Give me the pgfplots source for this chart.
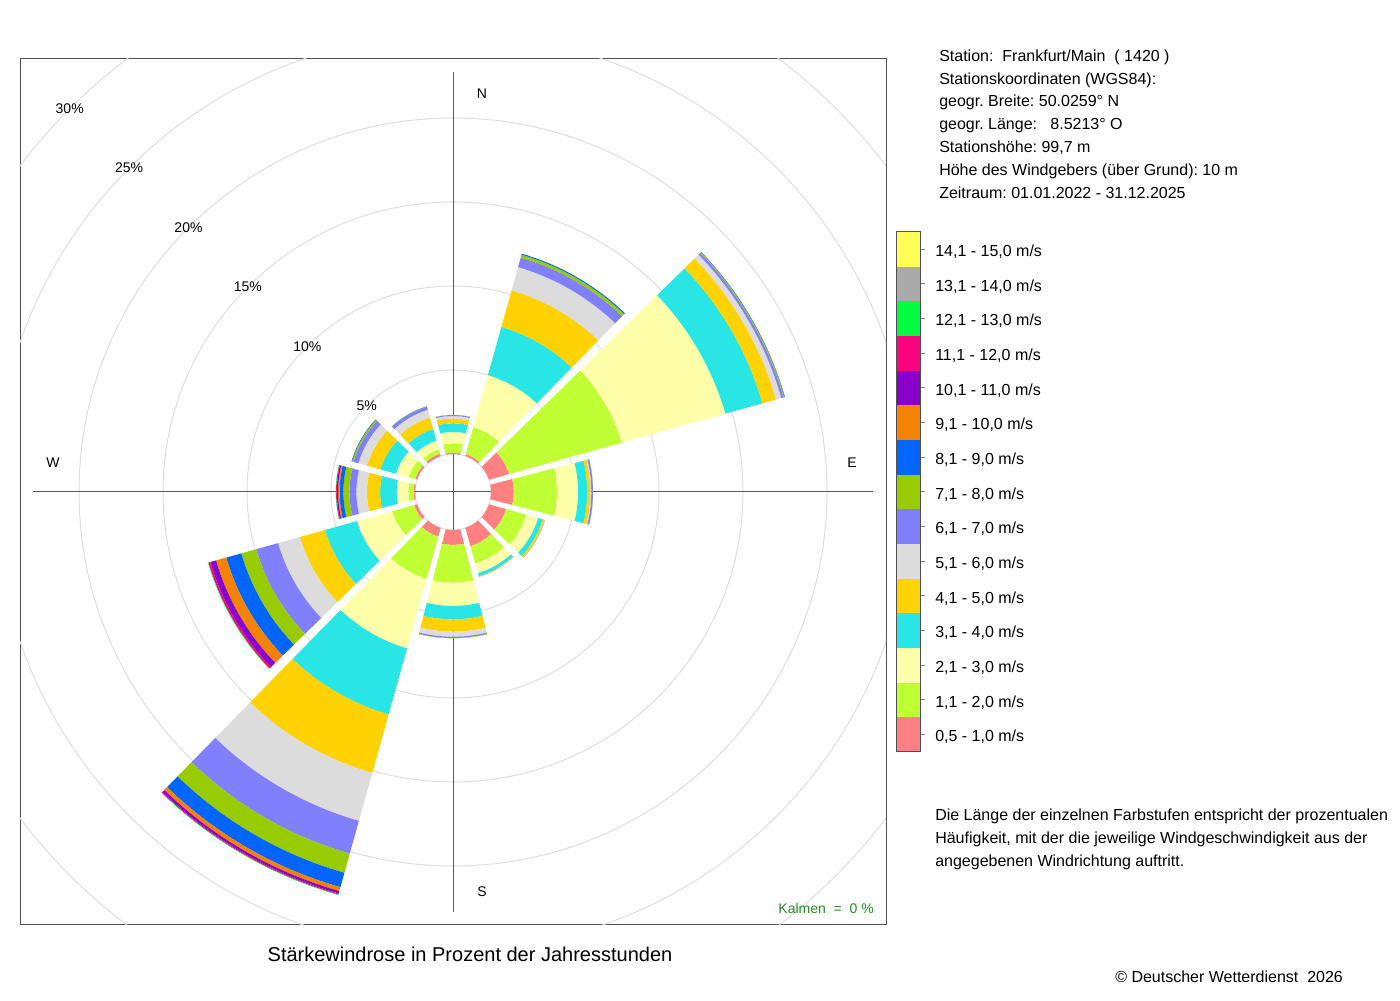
\documentclass[border=0pt]{standalone}
\usepackage{fontspec}
\setmainfont{Liberation Sans}
\usepackage{pgfplots}
\pgfplotsset{compat=1.18}
\usepackage{pgfplotstable}
\frenchspacing

\definecolor{wr1}{RGB}{255,128,128}
\definecolor{wr2}{RGB}{191,255,51}
\definecolor{wr3}{RGB}{255,255,170}
\definecolor{wr4}{RGB}{40,230,230}
\definecolor{wr5}{RGB}{255,210,0}
\definecolor{wr6}{RGB}{220,220,220}
\definecolor{wr7}{RGB}{128,128,255}
\definecolor{wr8}{RGB}{153,204,0}
\definecolor{wr9}{RGB}{0,102,255}
\definecolor{wr10}{RGB}{245,130,0}
\definecolor{wr11}{RGB}{136,0,204}
\definecolor{wr12}{RGB}{255,0,128}
\definecolor{wr13}{RGB}{0,255,64}
\definecolor{wr14}{RGB}{170,170,170}
\definecolor{wr15}{RGB}{255,255,85}
\definecolor{gridgray}{RGB}{222,222,222}
\definecolor{axgray}{RGB}{90,90,90}
\definecolor{framegray}{RGB}{80,80,80}
\definecolor{kalmgreen}{RGB}{34,139,34}

% cumulative percentages at the outer edge of each speed class, per direction
\pgfplotstableread{
dir c0 c1   c2   c3    c4    c5    c6    c7    c8    c9    c10   c11   c12   c13   c14   c15
0   0  0.08 0.63 1.31  1.82  2.11  2.26  2.32  2.33  2.33  2.33  2.33  2.33  2.33  2.33  2.33
30  0  0.12 1.79 5.00  7.98  10.24 11.67 12.26 12.44 12.50 12.50 12.50 12.50 12.50 12.50 12.50
60  0  1.25 8.21 14.61 16.90 17.74 18.07 18.21 18.27 18.29 18.29 18.29 18.29 18.29 18.29 18.29
90  0  1.35 3.93 5.18  5.73  5.91  5.97  6.07  6.08  6.08  6.08  6.08  6.08  6.08  6.08  6.08
120 0  1.07 2.32 3.04  3.33  3.45  3.46  3.47  3.47  3.47  3.47  3.47  3.47  3.47  3.47  3.47
150 0  1.13 2.20 2.80  2.98  3.01  3.01  3.02  3.02  3.02  3.02  3.02  3.02  3.02  3.02  3.02
180 0  0.89 3.14 4.52  5.32  6.05  6.35  6.43  6.45  6.45  6.45  6.45  6.45  6.45  6.45  6.45
210 0  0.54 3.15 7.44  11.52 15.14 18.10 20.12 21.31 22.20 22.44 22.59 22.65 22.68 22.68 22.68
240 0  0.18 1.55 3.72  5.69  7.24  8.59  9.94  10.86 11.79 12.42 12.77 12.89 12.92 12.92 12.92
270 0  0.09 0.40 1.09  2.08  2.86  3.49  3.90  4.26  4.49  4.58  4.66  4.70  4.72  4.72  4.72
300 0  0.12 0.54 1.31  2.26  3.10  3.63  3.93  4.02  4.05  4.05  4.05  4.05  4.05  4.05  4.05
330 0  0.15 0.42 0.95  1.67  2.38  2.86  3.04  3.06  3.07  3.07  3.07  3.07  3.07  3.07  3.07
}\rosedata

% grid rings (percent), all centred on the rose centre
\pgfplotstableread{
x y p
0 0 0
0 0 5
0 0 10
0 0 15
0 0 20
0 0 25
0 0 30
}\ringdata

% annular sector drawn around the rose centre; the marker sits on the outer edge
\pgfdeclareplotmark{rosesector}{%
  \pgfmathsetmacro\rsRi{0.75*(38+16.8*\rin)}%
  \pgfmathsetmacro\rsRo{0.75*(38+16.8*\rout)}%
  \pgfmathsetmacro\rsD{\rsRo-\rsRi}%
  \ifdim\rsD pt>0.05pt
    \pgfmathsetmacro\rsA{90-\wdir}%
    \pgfmathsetmacro\rsHi{14.4-asin(1.65/\rsRi)}%
    \pgfmathsetmacro\rsHo{14.4-asin(1.65/\rsRo)}%
    \pgfmathsetmacro\rsAa{\rsA+\rsHi}%
    \pgfmathsetmacro\rsAb{\rsA+\rsHo}%
    \pgfmathsetmacro\rsAc{\rsA-\rsHo}%
    \pgfmathsetmacro\rsAd{\rsA-\rsHi}%
    \pgfmathsetmacro\rsAo{\rsA+180}%
    \pgfscope
    \pgftransformshift{\pgfpointpolar{\rsAo}{\rsRo pt}}%
    \pgfpathmoveto{\pgfpointpolar{\rsAa}{\rsRi pt}}%
    \pgfpathlineto{\pgfpointpolar{\rsAb}{\rsRo pt}}%
    \pgfpatharc{\rsAb}{\rsAc}{\rsRo pt}%
    \pgfpathlineto{\pgfpointpolar{\rsAd}{\rsRi pt}}%
    \pgfpatharc{\rsAd}{\rsAa}{\rsRi pt}%
    \pgfpathclose
    \pgfusepathqfill
    \endpgfscope
  \fi
}
% grid ring centred on the marker
\pgfdeclareplotmark{gridring}{%
  \pgfmathsetmacro\rsR{0.75*(38+16.8*\gridp)}%
  \pgfpathcircle{\pgfpointorigin}{\rsR pt}%
  \pgfusepathqstroke
}

\newcommand{\seg}[3]{%
  \addplot[scatter, only marks, mark=rosesector,
    scatter/use mapped color={draw=none, fill=#1},
    visualization depends on={\thisrow{dir} \as \wdir},
    visualization depends on={\thisrow{#2} \as \rin},
    visualization depends on={\thisrow{#3} \as \rout}]
    table[x expr={(38+16.8*\thisrow{#3})*sin(\thisrow{dir})},
          y expr={(38+16.8*\thisrow{#3})*cos(\thisrow{dir})}] {\rosedata};
}

\begin{document}
\begin{tikzpicture}
\path[use as bounding box] (0,0) rectangle (1050pt,750pt);
\begin{axis}[
  at={(15pt,56.25pt)}, anchor=south west,
  scale only axis, width=649.5pt, height=649.5pt,
  xmin=-433, xmax=433, ymin=-433, ymax=433,
  axis line style={draw=framegray, line width=0.75pt},
  xtick=\empty, ytick=\empty,
  clip marker paths=true,
]
% grid rings 0% ... 30%
\addplot[scatter, only marks, mark=gridring, line width=0.75pt,
  scatter/use mapped color={draw=gridgray, fill=none},
  visualization depends on={\thisrow{p} \as \gridp}]
  table[x=x, y=y] {\ringdata};
% cross lines
\addplot[draw=axgray, line width=0.75pt] coordinates {(0,-420) (0,420)};
\addplot[draw=axgray, line width=0.75pt] coordinates {(-420,0) (420,0)};
% stacked speed classes
\seg{wr1}{c0}{c1}
\seg{wr2}{c1}{c2}
\seg{wr3}{c2}{c3}
\seg{wr4}{c3}{c4}
\seg{wr5}{c4}{c5}
\seg{wr6}{c5}{c6}
\seg{wr7}{c6}{c7}
\seg{wr8}{c7}{c8}
\seg{wr9}{c8}{c9}
\seg{wr10}{c9}{c10}
\seg{wr11}{c10}{c11}
\seg{wr12}{c11}{c12}
\seg{wr13}{c12}{c13}
\seg{wr14}{c13}{c14}
\seg{wr15}{c14}{c15}
% ring labels
\begin{scope}[every node/.style={font=\fontsize{10.5}{12}\selectfont, inner sep=0pt}]
\node at (axis cs:-86.3,86.3) {5\%};
\node at (axis cs:-145.7,145.7) {10\%};
\node at (axis cs:-205.1,205.1) {15\%};
\node at (axis cs:-264.5,264.5) {20\%};
\node at (axis cs:-323.9,323.9) {25\%};
\node at (axis cs:-383.3,383.3) {30\%};
\node at (axis cs:29,398) {N};
\node at (axis cs:29,-400) {S};
\node at (axis cs:399,29) {E};
\node at (axis cs:-400,29) {W};
\node[anchor=east, text=kalmgreen] at (axis cs:421,-416) {Kalmen\ \ =\ \ 0 \%};
\end{scope}
\end{axis}

\begin{scope}[x=0.75pt, y=-0.75pt, shift={(0pt,750pt)},
  every node/.style={font=\fontsize{12}{14}\selectfont, inner sep=0pt, anchor=base west}]
% station information
\node at (939,61.3) {Station:\ \ Frankfurt/Main\ \ ( 1420 )};
\node at (939,84.1) {Stationskoordinaten (WGS84):};
\node at (939,106.9) {geogr. Breite: 50.0259° N};
\node at (939,129.7) {geogr. Länge:\ \ \ 8.5213° O};
\node at (939,152.5) {Stationshöhe: 99,7 m};
\node at (939,175.3) {Höhe des Windgebers (über Grund): 10 m};
\node at (939,198.1) {Zeitraum: 01.01.2022 - 31.12.2025};
% colour key
\fill[wr1]  (896,752.00) rectangle (920.5,717.33);
\fill[wr2]  (896,717.33) rectangle (920.5,682.67);
\fill[wr3]  (896,682.67) rectangle (920.5,648.00);
\fill[wr4]  (896,648.00) rectangle (920.5,613.33);
\fill[wr5]  (896,613.33) rectangle (920.5,578.67);
\fill[wr6]  (896,578.67) rectangle (920.5,544.00);
\fill[wr7]  (896,544.00) rectangle (920.5,509.33);
\fill[wr8]  (896,509.33) rectangle (920.5,474.67);
\fill[wr9]  (896,474.67) rectangle (920.5,440.00);
\fill[wr10] (896,440.00) rectangle (920.5,405.33);
\fill[wr11] (896,405.33) rectangle (920.5,370.67);
\fill[wr12] (896,370.67) rectangle (920.5,336.00);
\fill[wr13] (896,336.00) rectangle (920.5,301.33);
\fill[wr14] (896,301.33) rectangle (920.5,266.67);
\fill[wr15] (896,266.67) rectangle (920.5,232.00);
\draw[framegray, line width=0.75pt] (896,232) rectangle (920.5,752);
\foreach \yy in {734.67,700.00,665.33,630.67,596.00,561.33,526.67,492.00,457.33,422.67,388.00,353.33,318.67,284.00,249.33}
  \draw[gray, line width=0.75pt] (920.5,\yy) -- (925,\yy);
\node at (935,741.9) {0,5 - 1,0 m/s};
\node at (935,707.2) {1,1 - 2,0 m/s};
\node at (935,672.5) {2,1 - 3,0 m/s};
\node at (935,637.9) {3,1 - 4,0 m/s};
\node at (935,603.2) {4,1 - 5,0 m/s};
\node at (935,568.5) {5,1 - 6,0 m/s};
\node at (935,533.9) {6,1 - 7,0 m/s};
\node at (935,499.2) {7,1 - 8,0 m/s};
\node at (935,464.5) {8,1 - 9,0 m/s};
\node at (935,429.9) {9,1 - 10,0 m/s};
\node at (935,395.2) {10,1 - 11,0 m/s};
\node at (935,360.5) {11,1 - 12,0 m/s};
\node at (935,325.9) {12,1 - 13,0 m/s};
\node at (935,291.2) {13,1 - 14,0 m/s};
\node at (935,256.5) {14,1 - 15,0 m/s};
% explanation
\node at (935,820.7) {Die Länge der einzelnen Farbstufen entspricht der prozentualen};
\node at (935,843.7) {Häufigkeit, mit der die jeweilige Windgeschwindigkeit aus der};
\node at (935,866.7) {angegebenen Windrichtung auftritt.};
% title and copyright
\node[anchor=base, font=\fontsize{15}{18}\selectfont] at (470,962) {Stärkewindrose in Prozent der Jahresstunden};
\node at (1115,982.2) {© Deutscher Wetterdienst\ \ 2026};
\end{scope}
\end{tikzpicture}
\end{document}
